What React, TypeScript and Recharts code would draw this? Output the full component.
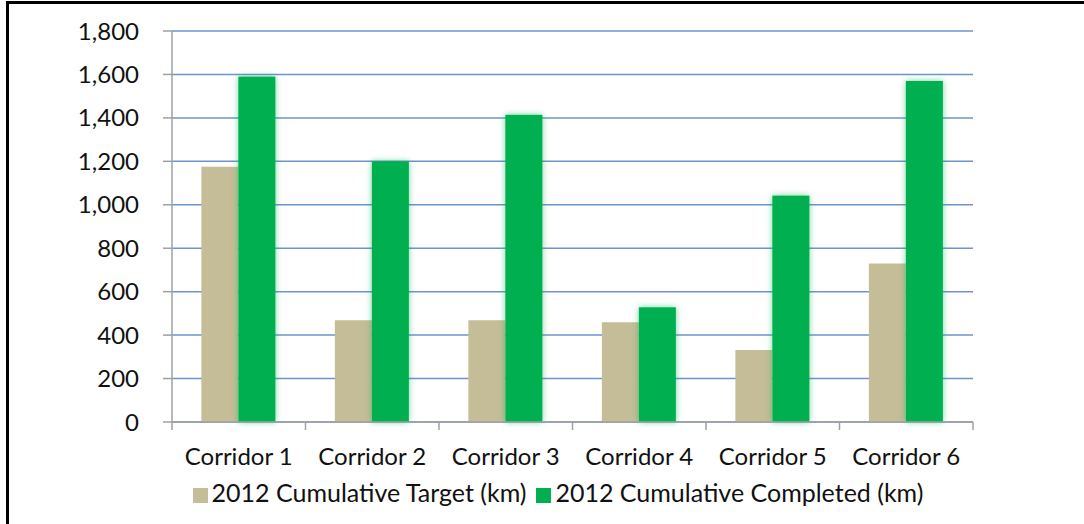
import { BarChart, Bar, XAxis, YAxis, CartesianGrid, Legend } from "recharts"

const corridors = ["Corridor 1", "Corridor 2", "Corridor 3", "Corridor 4", "Corridor 5", "Corridor 6"]
const targetKm = [1175, 468, 468, 459, 331, 730]
const completedKm = [1590, 1200, 1414, 528, 1042, 1570]
const yTicks = [0, 200, 400, 600, 800, 1000, 1200, 1400, 1600, 1800]
const seriesOrder = ["target", "completed"]

const data = corridors.map((name, i) => ({
  name,
  target: targetKm[i],
  completed: completedKm[i],
}))

const FONT = "Lato, 'Open Sans', sans-serif"
const PLOT_W = 801
const BAND = PLOT_W / corridors.length

const fmt = (v: number) => v.toLocaleString("en-US")

function CategoryTick(props: any) {
  const { x, y, payload, index } = props
  const top = y - 8
  return (
    <g>
      <line x1={x - BAND / 2} y1={top} x2={x - BAND / 2} y2={top + 8} stroke="#a0a0a0" strokeWidth={1.5} />
      {index === corridors.length - 1 && (
        <line x1={x + BAND / 2} y1={top} x2={x + BAND / 2} y2={top + 8} stroke="#a0a0a0" strokeWidth={1.5} />
      )}
      <text x={x} y={top + 43} textAnchor="middle" fill="#111" fontSize={24} fontFamily={FONT}>
        {payload.value}
      </text>
    </g>
  )
}

function GlowBar(props: any) {
  const { x, y, width, height, fill } = props
  return (
    <rect
      x={x}
      y={y}
      width={width}
      height={height}
      fill={fill}
      style={{ filter: "drop-shadow(0 0 3px rgba(0,176,80,0.55))" }}
    />
  )
}

export default function App() {
  return (
    <div style={{ position: "absolute", left: 0, top: 0, width: 1084, height: 524, background: "#fff" }}>
      <div
        style={{
          position: "absolute",
          left: 6,
          top: 1,
          width: 1078,
          height: 523,
          borderTop: "3px solid #000",
          borderLeft: "3px solid #000",
        }}
      />
      <div style={{ position: "absolute", left: 0, top: 0 }}>
        <BarChart
          width={1084}
          height={524}
          data={data}
          margin={{ top: 31, right: 111, bottom: 17, left: 0 }}
          barGap={0}
          barCategoryGap="22%"
        >
          <CartesianGrid vertical={false} stroke="#6f93cf" strokeWidth={1.5} />
          <XAxis
            dataKey="name"
            height={55}
            tickLine={false}
            axisLine={{ stroke: "#a0a0a0", strokeWidth: 1.5 }}
            tick={<CategoryTick />}
            interval={0}
          />
          <YAxis
            width={172}
            domain={[0, 1800]}
            ticks={yTicks}
            tickFormatter={fmt}
            tickSize={9}
            tickMargin={24}
            tick={{ fill: "#111", fontSize: 24, fontFamily: FONT }}
            axisLine={{ stroke: "#a0a0a0", strokeWidth: 1.5 }}
            tickLine={{ stroke: "#a0a0a0", strokeWidth: 1.5 }}
            interval={0}
          />
          <YAxis
            yAxisId="edge"
            orientation="right"
            width={0}
            tick={false}
            tickLine={false}
            axisLine={{ stroke: "#c0c0c0", strokeWidth: 1.5 }}
          />
          <Legend
            verticalAlign="bottom"
            iconType="square"
            iconSize={15}
            itemSorter={(item: any) => seriesOrder.indexOf(item.dataKey)}
            wrapperStyle={{ left: 0, width: 1126, fontFamily: FONT, fontSize: 25, color: "#111" }}
            formatter={(value: string) => <span style={{ color: "#111" }}>{value}</span>}
          />
          <Bar dataKey="target" name="2012 Cumulative Target (km)" fill="#c4bd97" isAnimationActive={false} />
          <Bar
            dataKey="completed"
            name="2012 Cumulative Completed (km)"
            fill="#00b050"
            shape={<GlowBar />}
            isAnimationActive={false}
          />
        </BarChart>
      </div>
    </div>
  )
}
